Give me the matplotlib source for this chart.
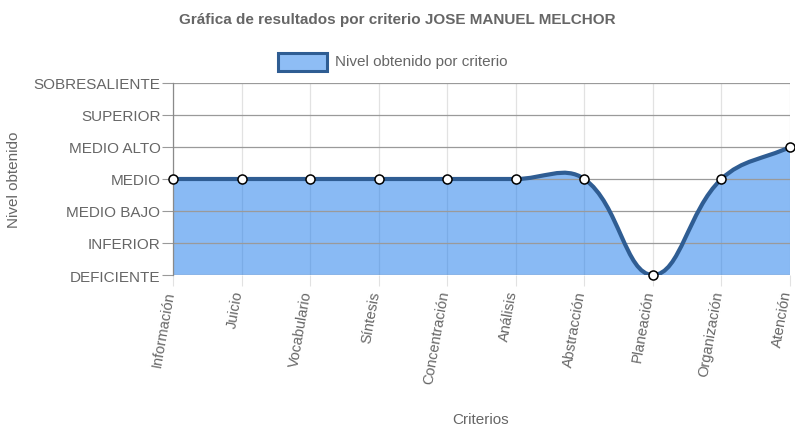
import numpy as np
import matplotlib.pyplot as plt
import matplotlib.transforms as mtransforms
from matplotlib.path import Path
from matplotlib.patches import PathPatch, Rectangle

plt.rcParams['font.family'] = ['Liberation Sans', 'DejaVu Sans']

criterios = ['Información', 'Juicio', 'Vocabulario', 'Síntesis', 'Concentración',
             'Análisis', 'Abstracción', 'Planeación', 'Organización', 'Atención']
niveles = ['DEFICIENTE', 'INFERIOR', 'MEDIO BAJO', 'MEDIO', 'MEDIO ALTO',
           'SUPERIOR', 'SOBRESALIENTE']
valores = [3, 3, 3, 3, 3, 3, 3, 0, 3, 4]

W, H = 795, 435
fig = plt.figure(figsize=(W / 100, H / 100), dpi=100)
ax = fig.add_axes([173 / W, 159 / H, 617 / W, 192 / H])
x = np.arange(len(criterios))
ax.set_xlim(0, len(criterios) - 1)
ax.set_ylim(0, len(niveles) - 1)

# curva tipo Chart.js (tension 0.4), calculada en pixeles
pts = ax.transData.transform(np.column_stack([x, valores]))
n = len(pts)
tension = 0.4
cp_prev, cp_next = [], []
for i in range(n):
    p0 = pts[max(i - 1, 0)]
    p1 = pts[i]
    p2 = pts[min(i + 1, n - 1)]
    d01 = np.hypot(*(p1 - p0))
    d12 = np.hypot(*(p2 - p1))
    tot = d01 + d12
    s01 = d01 / tot if tot else 0
    s12 = d12 / tot if tot else 0
    cp_prev.append(p1 - tension * s01 * (p2 - p0))
    cp_next.append(p1 + tension * s12 * (p2 - p0))

verts = [pts[0]]
codes = [Path.MOVETO]
for i in range(n - 1):
    verts += [cp_next[i], cp_prev[i + 1], pts[i + 1]]
    codes += [Path.CURVE4] * 3
inv = ax.transData.inverted()
vdata = inv.transform(np.array(verts))

fill_verts = list(vdata) + [(x[-1], 0), (x[0], 0), (x[0], valores[0])]
fill_codes = codes + [Path.LINETO, Path.LINETO, Path.CLOSEPOLY]
ax.add_patch(PathPatch(Path(fill_verts, fill_codes), facecolor='#1E7BEB',
                       alpha=0.52, edgecolor='none', zorder=1))
ax.add_patch(PathPatch(Path(vdata, codes), facecolor='none', edgecolor='#2F5D93',
                       lw=3, zorder=3, capstyle='round', joinstyle='round'))
ax.plot(x, valores, 'o', ms=6.5, mfc='white', mec='black', mew=1.1,
        zorder=4, clip_on=False)

# rejilla y ejes
for yv in range(len(niveles)):
    ax.axhline(yv, color='#9a9a9a', lw=0.9, zorder=2)
for xv in x:
    ax.axvline(xv, color='#e2e2e2', lw=0.9, zorder=0.5)
for s in ['top', 'right', 'bottom']:
    ax.spines[s].set_visible(False)
ax.spines['left'].set_color('#8a8a8a')
ax.spines['left'].set_linewidth(0.9)

ax.set_yticks(range(len(niveles)))
ax.set_yticklabels(niveles, fontsize=11, color='#666666')
ax.tick_params(axis='y', length=8, color='#9a9a9a', pad=1)
ax.set_xticks(x)
ax.set_xticklabels(criterios, fontsize=10.5, color='#666666', rotation=80,
                   ha='right', va='center', rotation_mode='anchor')
ax.tick_params(axis='x', length=8, color='#e2e2e2', pad=3)
shift = mtransforms.ScaledTranslation(-3 / 100, 0, fig.dpi_scale_trans)
for lbl in ax.get_xticklabels():
    lbl.set_transform(lbl.get_transform() + shift)

fig.text(14 / W, 1 - 180 / H, 'Nivel obtenido', rotation=90, ha='center',
         va='center', fontsize=11, color='#666666')
fig.text(481 / W, 1 - 420 / H, 'Criterios', ha='center', va='center',
         fontsize=11, color='#666666')
fig.text(0.5, 1 - 20 / H, 'Gráfica de resultados por criterio JOSE MANUEL MELCHOR',
         ha='center', va='center', fontsize=11, fontweight='bold', color='#666666')

# leyenda
fig.add_artist(Rectangle((278 / W, 1 - 72 / H), 49 / W, 18 / H,
                         transform=fig.transFigure, facecolor='#8EBDF5',
                         edgecolor='#2F5D93', lw=2.2))
fig.text(335 / W, 1 - 62 / H, 'Nivel obtenido por criterio', ha='left',
         va='center', fontsize=11, color='#666666')

fig.savefig('out.png', dpi=100)
